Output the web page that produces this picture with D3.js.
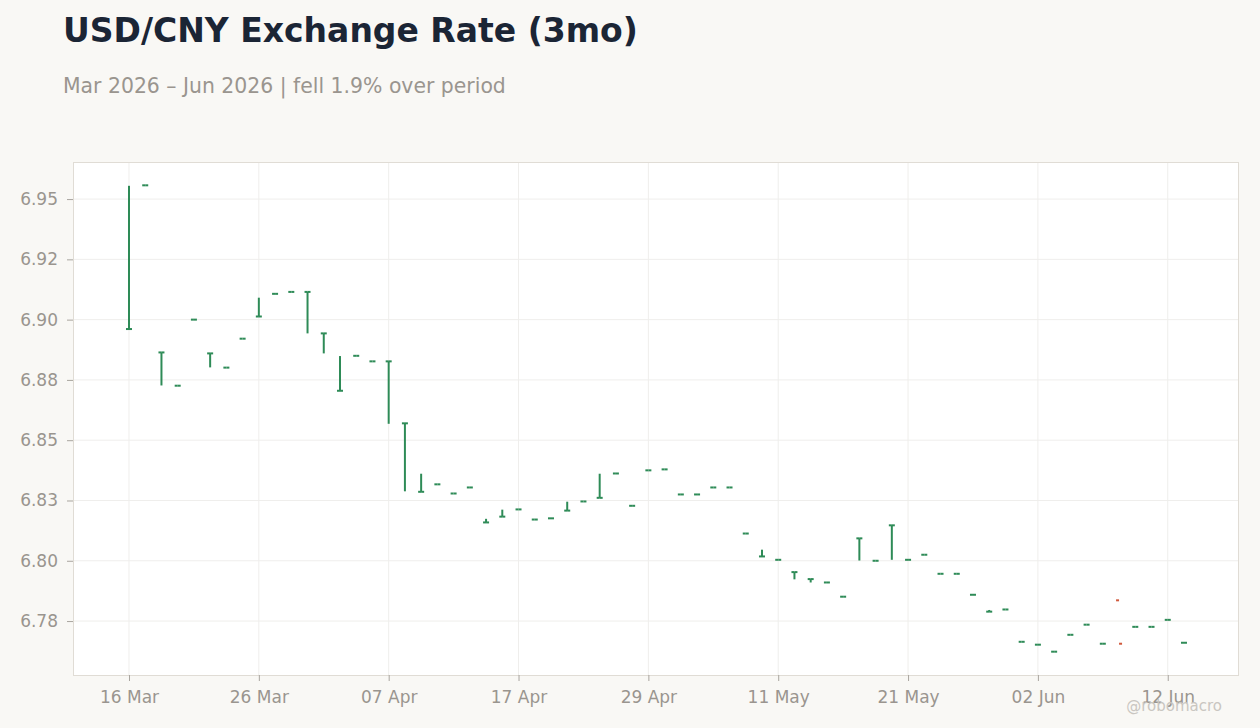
<!DOCTYPE html>
<html>
<head>
<meta charset="utf-8">
<script src="https://cdn.jsdelivr.net/npm/d3@7"></script>
<style>
  body { margin: 0; background: #f9f8f5; }
  svg { display: block; font-family: "DejaVu Sans", sans-serif; }
  .axis path { display: none; }
  .axis line { stroke: #a9a59f; }
  .axis text { fill: #9a958f; font-size: 17px; font-family: "DejaVu Sans", sans-serif; }
  .grid line { stroke: #efeeec; stroke-width: 1; }
</style>
</head>
<body>
<svg width="1260" height="728"></svg>
<script>
// business days, 16 Mar 2026 - 15 Jun 2026
const dates = [
  "16 Mar", "17 Mar", "18 Mar", "19 Mar", "20 Mar", "23 Mar", "24 Mar", "25 Mar", "26 Mar", "27 Mar",
  "30 Mar", "31 Mar", "01 Apr", "02 Apr", "03 Apr", "06 Apr", "07 Apr", "08 Apr", "09 Apr", "10 Apr",
  "13 Apr", "14 Apr", "15 Apr", "16 Apr", "17 Apr", "20 Apr", "21 Apr", "22 Apr", "23 Apr", "24 Apr",
  "27 Apr", "28 Apr", "29 Apr", "30 Apr", "01 May", "04 May", "05 May", "06 May", "07 May", "08 May",
  "11 May", "12 May", "13 May", "14 May", "15 May", "18 May", "19 May", "20 May", "21 May", "22 May",
  "25 May", "26 May", "27 May", "28 May", "29 May", "01 Jun", "02 Jun", "03 Jun", "04 Jun", "05 Jun",
  "08 Jun", "09 Jun", "10 Jun", "11 Jun", "12 Jun", "15 Jun"
];

const open = [
  6.8961, 6.9557, 6.8864, 6.8726, 6.9000, 6.8860, 6.8801, 6.8921, 6.9013, 6.9107,
  6.9115, 6.9115, 6.8943, 6.8705, 6.8850, 6.8827, 6.8827, 6.8570, 6.8286, 6.8317,
  6.8279, 6.8304, 6.8159, 6.8183, 6.8213, 6.8171, 6.8176, 6.8208, 6.8246, 6.8261,
  6.8362, 6.8228, 6.8375, 6.8379, 6.8275, 6.8275, 6.8304, 6.8304, 6.8113, 6.8018,
  6.8004, 6.7953, 6.7924, 6.7910, 6.7851, 6.8093, 6.8000, 6.8147, 6.8004, 6.8025,
  6.7946, 6.7946, 6.7859, 6.7789, 6.7798, 6.7664, 6.7652, 6.7623, 6.7693, 6.7735,
  6.7656, 6.7836, 6.7726, 6.7726, 6.7755, 6.7660
];

const high = [
  6.9555, 6.9557, 6.8864, 6.8726, 6.9000, 6.8860, 6.8801, 6.8921, 6.9091, 6.9107,
  6.9115, 6.9115, 6.8943, 6.8849, 6.8850, 6.8827, 6.8827, 6.8570, 6.8361, 6.8317,
  6.8279, 6.8304, 6.8174, 6.8212, 6.8213, 6.8171, 6.8176, 6.8245, 6.8246, 6.8361,
  6.8362, 6.8228, 6.8375, 6.8379, 6.8275, 6.8275, 6.8304, 6.8304, 6.8113, 6.8046,
  6.8004, 6.7953, 6.7924, 6.7910, 6.7851, 6.8093, 6.8000, 6.8147, 6.8004, 6.8025,
  6.7946, 6.7946, 6.7859, 6.7796, 6.7798, 6.7664, 6.7652, 6.7623, 6.7693, 6.7735,
  6.7656, null, 6.7726, 6.7726, 6.7755, 6.7660
];

const low = [
  6.8961, 6.9557, 6.8727, 6.8726, 6.9000, 6.8802, 6.8801, 6.8921, 6.9013, 6.9107,
  6.9115, 6.8943, 6.8860, 6.8705, 6.8850, 6.8827, 6.8568, 6.8288, 6.8286, 6.8317,
  6.8279, 6.8304, 6.8159, 6.8183, 6.8213, 6.8171, 6.8176, 6.8208, 6.8246, 6.8261,
  6.8362, 6.8228, 6.8375, 6.8379, 6.8275, 6.8275, 6.8304, 6.8304, 6.8113, 6.8018,
  6.8004, 6.7923, 6.7910, 6.7910, 6.7851, 6.8001, 6.8000, 6.8004, 6.8004, 6.8025,
  6.7946, 6.7946, 6.7859, 6.7789, 6.7798, 6.7664, 6.7652, 6.7623, 6.7693, 6.7735,
  6.7656, null, 6.7726, 6.7726, 6.7755, 6.7660
];

const close = [
  6.8961, 6.9557, 6.8864, 6.8726, 6.9000, 6.8860, 6.8801, 6.8921, 6.9013, 6.9107,
  6.9115, 6.9115, 6.8943, 6.8705, 6.8850, 6.8827, 6.8827, 6.8570, 6.8286, 6.8317,
  6.8279, 6.8304, 6.8159, 6.8183, 6.8213, 6.8171, 6.8176, 6.8208, 6.8246, 6.8261,
  6.8362, 6.8228, 6.8375, 6.8379, 6.8275, 6.8275, 6.8304, 6.8304, 6.8113, 6.8018,
  6.8004, 6.7953, 6.7924, 6.7910, 6.7851, 6.8093, 6.8000, 6.8147, 6.8004, 6.8025,
  6.7946, 6.7946, 6.7859, 6.7789, 6.7798, 6.7664, 6.7652, 6.7623, 6.7693, 6.7735,
  6.7656, 6.7656, 6.7726, 6.7726, 6.7755, 6.7660
];

const yTicks = [6.95, 6.925, 6.9, 6.875, 6.85, 6.825, 6.8, 6.775];
const xTicks = [0, 8, 16, 24, 32, 40, 48, 56, 64];

const up = "#2e8b57", down = "#d0593c";

const svg = d3.select("svg"),
  margin = { top: 162, right: 21, bottom: 53, left: 73 },
  width = +svg.attr("width") - margin.left - margin.right,
  height = +svg.attr("height") - margin.top - margin.bottom;

const data = dates.map((d, i) => ({
  i, date: d, o: open[i], h: high[i], l: low[i], c: close[i]
}));

const allVals = [...open, ...close, ...high, ...low].filter((v) => v != null);
const lo = d3.min(allVals), hi = d3.max(allVals), pad = (hi - lo) * 0.05;

const x = d3.scaleLinear().domain([-3.45, 68.39]).range([0, width]),
  y = d3.scaleLinear().domain([lo - pad, hi + pad]).range([height, 0]);

// titles
svg.append("text")
  .attr("x", 63).attr("y", 42)
  .attr("fill", "#1b2535")
  .attr("font-size", 33).attr("font-weight", "bold")
  .text("USD/CNY Exchange Rate (3mo)");

svg.append("text")
  .attr("x", 63).attr("y", 93)
  .attr("fill", "#9a958f")
  .attr("font-size", 20.4)
  .text("Mar 2026 – Jun 2026 | fell 1.9% over period");

const g = svg.append("g")
  .attr("transform", `translate(${margin.left},${margin.top})`);

g.append("rect")
  .attr("width", width).attr("height", height)
  .attr("fill", "#fff");

// grid
g.append("g").attr("class", "grid")
  .selectAll("line").data(yTicks).join("line")
  .attr("x1", 0).attr("x2", width)
  .attr("y1", (d) => y(d)).attr("y2", (d) => y(d));

g.append("g").attr("class", "grid")
  .selectAll("line").data(xTicks).join("line")
  .attr("y1", 0).attr("y2", height)
  .attr("x1", (d) => x(d)).attr("x2", (d) => x(d));

g.append("rect")
  .attr("x", 0.5).attr("y", 0.5)
  .attr("width", width - 1).attr("height", height)
  .attr("fill", "none").attr("stroke", "#e0dcd5");

// axes
g.append("g")
  .attr("class", "axis")
  .call(d3.axisLeft(y).tickValues(yTicks).tickFormat(d3.format(".2f")).tickSize(6).tickPadding(9));

g.append("g")
  .attr("class", "axis")
  .attr("transform", `translate(0,${height})`)
  .call(d3.axisBottom(x).tickValues(xTicks).tickFormat((i) => dates[i]).tickSize(6).tickPadding(10));

// candles
const candle = g.append("g")
  .selectAll("g")
  .data(data)
  .join("g")
  .attr("fill", (d) => (d.c >= d.o ? up : down))
  .attr("stroke", (d) => (d.c >= d.o ? up : down));

candle.filter((d) => d.h != null && d.h !== d.l)
  .append("line")
  .attr("x1", (d) => x(d.i)).attr("x2", (d) => x(d.i))
  .attr("y1", (d) => y(d.h)).attr("y2", (d) => y(d.l))
  .attr("stroke-width", 2);

candle.append("rect")
  .attr("x", (d) => x(d.i) - 3)
  .attr("y", (d) => y(d.o) - 1)
  .attr("width", 3).attr("height", 2)
  .attr("stroke", "none");

candle.append("rect")
  .attr("x", (d) => x(d.i))
  .attr("y", (d) => y(d.c) - 1)
  .attr("width", 3).attr("height", 2)
  .attr("stroke", "none");

// watermark
svg.append("text")
  .attr("x", 1222).attr("y", 711)
  .attr("text-anchor", "end")
  .attr("fill", "#c9c6c1")
  .attr("font-size", 15)
  .text("@robomacro");
</script>
</body>
</html>
